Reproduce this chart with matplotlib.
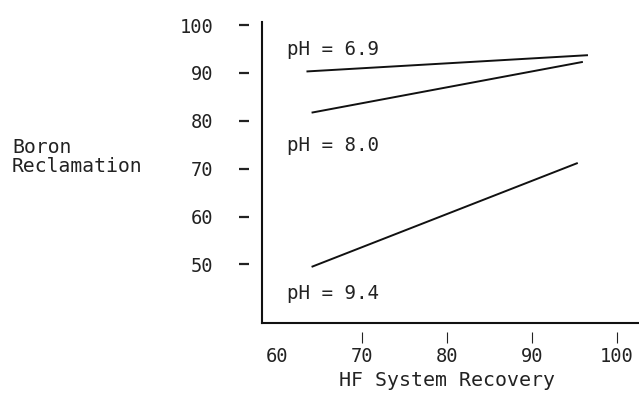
import matplotlib
matplotlib.use("Agg")
import matplotlib.pyplot as plt
from matplotlib.transforms import blended_transform_factory

# ---- data ----
ph_labels = ["pH = 6.9", "pH = 8.0", "pH = 9.4"]
recovery_start = [63.5, 64.1, 64.1]
recovery_end = [96.6, 96.0, 95.4]
reclamation_start = [90.3, 81.7, 49.5]
reclamation_end = [93.7, 92.3, 71.2]
label_y = [94.8, 74.9, 43.9]
label_x = 61.2

x_ticks = [60, 70, 80, 90, 100]
y_ticks = [50, 60, 70, 80, 90, 100]

FONT = "DejaVu Sans Mono"
plt.rcParams["font.family"] = [FONT, "DejaVu Sans"]

W, H = 639, 395
fig = plt.figure(figsize=(W / 100, H / 100), dpi=100)

left_px, right_px, top_px, bottom_px = 261.7, 639.0, 21.7, 323.3
ax = fig.add_axes([left_px / W, (H - bottom_px) / H,
                   (right_px - left_px) / W, (bottom_px - top_px) / H])
ax.set_xlim(58.235, 102.6)
ax.set_ylim(37.72, 100.69)

for s in ("top", "right"):
    ax.spines[s].set_visible(False)
for s in ("left", "bottom"):
    ax.spines[s].set_linewidth(1.5)
    ax.spines[s].set_color("#111111")
ax.tick_params(left=False, bottom=False, labelleft=False, labelbottom=False)

# lines
for xs, xe, ys, ye in zip(recovery_start, recovery_end, reclamation_start, reclamation_end):
    ax.plot([xs, xe], [ys, ye], color="#111111", lw=1.4, solid_capstyle="butt")

for lab, ly in zip(ph_labels, label_y):
    ax.text(label_x, ly, lab, fontsize=13.8, ha="left", va="center", color="#222222")

# offset tick axes
axw = right_px - left_px
axh = bottom_px - top_px
sy = ax.secondary_yaxis((249 - left_px) / axw)
sy.spines["left"].set_color("none")
sy.set_yticks(y_ticks)
sy.tick_params(axis="y", direction="out", length=7.2, width=1.6, pad=18.5,
               labelsize=13.5, colors="#222222")

sx = ax.secondary_xaxis(-(332 - bottom_px) / axh)
sx.spines["bottom"].set_color("none")
sx.set_xticks(x_ticks)
sx.tick_params(axis="x", direction="out", length=8, width=0.8, pad=2.5,
               labelsize=13.5, colors="#222222")
sx.xaxis.get_major_ticks()[0].tick1line.set_visible(False)

# axis titles
tr = blended_transform_factory(ax.transData, fig.transFigure)
ax.text(80.0, (H - 381) / H, "HF System Recovery", transform=tr,
        ha="center", va="center", fontsize=14.3, color="#222222")
fig.text(12 / W, 1 - 157 / H, "Boron\nReclamation", ha="left", va="center",
         fontsize=14.2, linespacing=1.0, color="#222222")

fig.savefig("out.png", dpi=100)
